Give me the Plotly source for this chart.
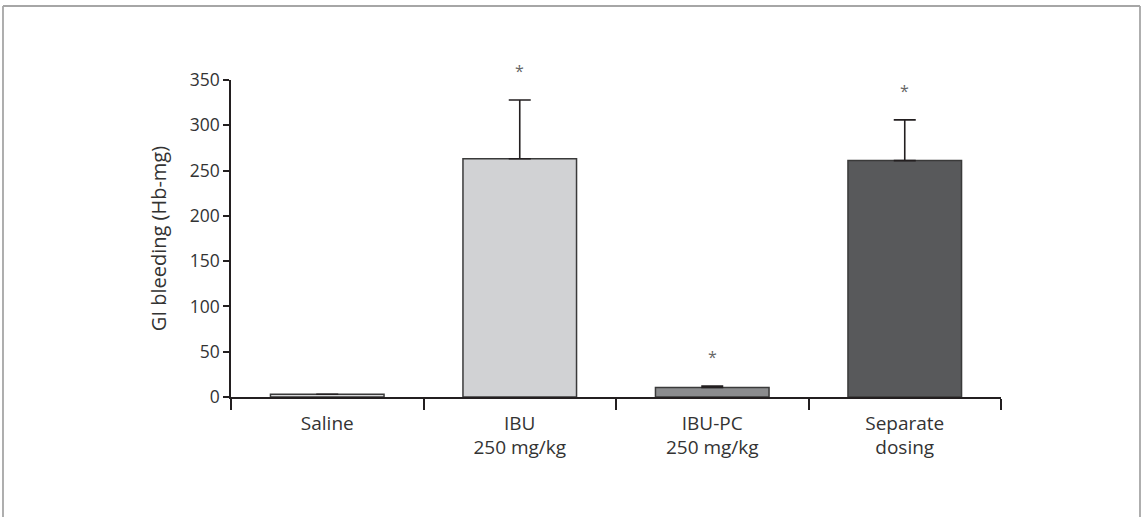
import plotly.graph_objects as go

categories = ["Saline", "IBU<br>250 mg/kg", "IBU-PC<br>250 mg/kg", "Separate<br>dosing"]
means = [3, 263, 10.5, 261]
errors_up = [0, 65, 1.5, 45]
significant = [False, True, True, True]
bar_colors = ["#d9d9db", "#d1d2d4", "#8b8c8e", "#58595b"]
y_ticks = [0, 50, 100, 150, 200, 250, 300, 350]
y_max = 350

pw, ph = 770, 317
l, t = 231, 80
W, H = 1144, 517

fig = go.Figure()
fig.add_trace(go.Bar(
    x=categories, y=means, width=0.59,
    marker=dict(color=bar_colors, line=dict(color="#3a3a3a", width=1.5)),
    error_y=dict(type="data", array=errors_up, arrayminus=[0]*4, symmetric=False,
                 color="#231f20", thickness=1.6, width=11),
    cliponaxis=False, hoverinfo="skip",
))

for c, m, e, s in zip(categories, means, errors_up, significant):
    if s:
        fig.add_annotation(x=c, xref="x", y=(m + e + 32) / y_max, yref="paper", text="*",
                           showarrow=False, font=dict(size=16, color="#666666"), yanchor="middle")

# figure frame (pixel positions)
def px_x(v):
    return (v - l) / pw
def px_y(v):
    return (t + ph - v) / ph
frame = dict(type="line", xref="paper", yref="paper", line=dict(color="#a6a6a6", width=1.8))
fig.add_shape(**frame, x0=px_x(3), x1=px_x(1140), y0=px_y(6), y1=px_y(6))
fig.add_shape(**frame, x0=px_x(3), x1=px_x(3), y0=px_y(6), y1=px_y(560))
fig.add_shape(**frame, x0=px_x(1140), x1=px_x(1140), y0=px_y(6), y1=px_y(560))

fig.update_layout(
    width=W, height=H,
    margin=dict(l=l, r=W - l - pw, t=t, b=H - t - ph),
    paper_bgcolor="white", plot_bgcolor="white",
    showlegend=False,
    font=dict(family="Open Sans, sans-serif", size=18, color="#333333"),
)
fig.update_xaxes(type="category", range=[-0.5, 3.5], showline=True, linecolor="#231f20", linewidth=1.5,
                 ticks="outside", tickson="boundaries", ticklen=11, tickcolor="#231f20", tickwidth=1.5,
                 ticklabelstandoff=8,
                 showgrid=False, zeroline=False, tickfont=dict(size=19, color="#333333"), automargin=False)
fig.update_yaxes(range=[0, y_max], tickvals=y_ticks, showline=True, linecolor="#231f20", linewidth=1.5,
                 ticks="outside", ticklen=6, tickcolor="#231f20", tickwidth=1.5,
                 showgrid=False, zeroline=False, tickfont=dict(size=17.5, color="#333333"), automargin=False,
                 title=dict(text="GI bleeding (Hb-mg)", font=dict(size=20, color="#333333"), standoff=18))

fig.write_html("out.html", config={"displayModeBar": False},
               post_script="document.body.style.margin='0px';document.body.style.overflow='hidden';")
